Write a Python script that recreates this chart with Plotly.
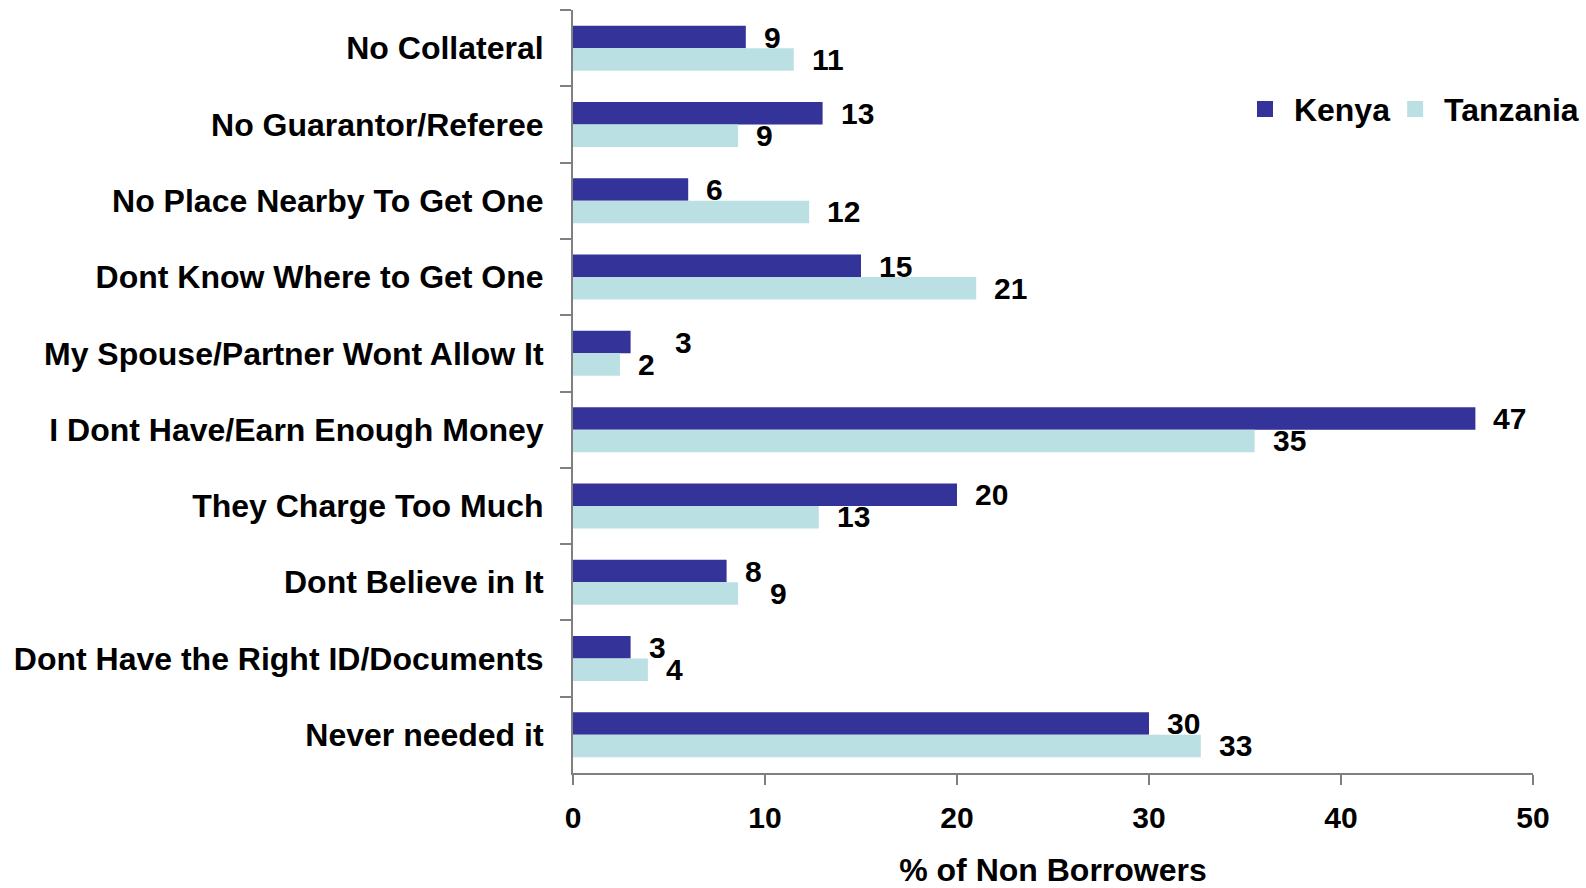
import plotly.graph_objects as go

categories = [
    "No Collateral",
    "No Guarantor/Referee",
    "No Place Nearby To Get One",
    "Dont Know Where to Get One",
    "My Spouse/Partner Wont Allow It",
    "I Dont Have/Earn Enough Money",
    "They Charge Too Much",
    "Dont Believe in It",
    "Dont Have the Right ID/Documents",
    "Never needed it",
]
kenya = [9.0, 13.0, 6.0, 15.0, 3.0, 47.0, 20.0, 8.0, 3.0, 30.0]
tanzania = [11.5, 8.6, 12.3, 21.0, 2.45, 35.5, 12.8, 8.6, 3.9, 32.7]
kenya_labels = ["9", "13", "6", "15", "3", "47", "20", "8", "3", "30"]
tanzania_labels = ["11", "9", "12", "21", "2", "35", "13", "9", "4", "33"]
x_ticks = [0, 10, 20, 30, 40, 50]

KENYA_C = "#333399"
TANZ_C = "#BBE0E3"
FAM = "Liberation Sans, Arial, sans-serif"
NUM_FONT = dict(family=FAM, size=30, color="black", weight="bold")
TXT_FONT = dict(family=FAM, size=32, color="black", weight="bold")

fig = go.Figure()
fig.add_trace(go.Bar(y=categories, x=kenya, orientation="h", name="Kenya",
                     marker=dict(color=KENYA_C, line=dict(width=0)), showlegend=False))
fig.add_trace(go.Bar(y=categories, x=tanzania, orientation="h", name="Tanzania",
                     marker=dict(color=TANZ_C, line=dict(width=0)), showlegend=False))
# legend entries with larger square swatches
for name, col in (("Kenya", KENYA_C), ("Tanzania", TANZ_C)):
    fig.add_trace(go.Scatter(x=[None], y=[None], mode="markers", name=" " + name,
                             marker=dict(symbol="square", size=18, color=col),
                             showlegend=True))

# data labels (Excel-style, placed just beyond bar ends)
extra_k = {4: 26}
extra_t = {7: 14}
for i, c in enumerate(categories):
    fig.add_annotation(x=kenya[i], y=c, text=kenya_labels[i], showarrow=False,
                       xanchor="left", yanchor="middle", xshift=16 + extra_k.get(i, 0),
                       yshift=11, font=NUM_FONT)
    fig.add_annotation(x=tanzania[i], y=c, text=tanzania_labels[i], showarrow=False,
                       xanchor="left", yanchor="middle", xshift=16 + extra_t.get(i, 0),
                       yshift=-11, font=NUM_FONT)

fig.update_layout(
    width=1586, height=888,
    margin=dict(l=573, r=53, t=10, b=115, autoexpand=False),
    paper_bgcolor="white", plot_bgcolor="white",
    font=NUM_FONT,
    barmode="group", bargap=0.41, bargroupgap=0,
    showlegend=True,
    legend=dict(orientation="h", x=0.7, y=0.87, xanchor="left", yanchor="middle",
                font=TXT_FONT, bgcolor="rgba(0,0,0,0)", traceorder="normal",
                itemwidth=30),
)
fig.update_yaxes(
    autorange="reversed", type="category", automargin=False,
    showline=True, linecolor="#808080", linewidth=2,
    ticks="outside", ticklen=11, tickcolor="#808080", tickwidth=2,
    tickson="boundaries", ticklabelstandoff=21, tickfont=TXT_FONT,
    showgrid=False, zeroline=False,
)
fig.update_xaxes(
    range=[0, 50], tickvals=x_ticks, ticktext=[str(v) for v in x_ticks],
    automargin=False,
    showline=True, linecolor="#808080", linewidth=2,
    ticks="outside", ticklen=10, tickcolor="#808080", tickwidth=2,
    ticklabelstandoff=7, tickfont=NUM_FONT,
    showgrid=False, zeroline=False,
    title=dict(text="% of Non Borrowers", font=TXT_FONT, standoff=35),
)
fig.write_html("out.html")
